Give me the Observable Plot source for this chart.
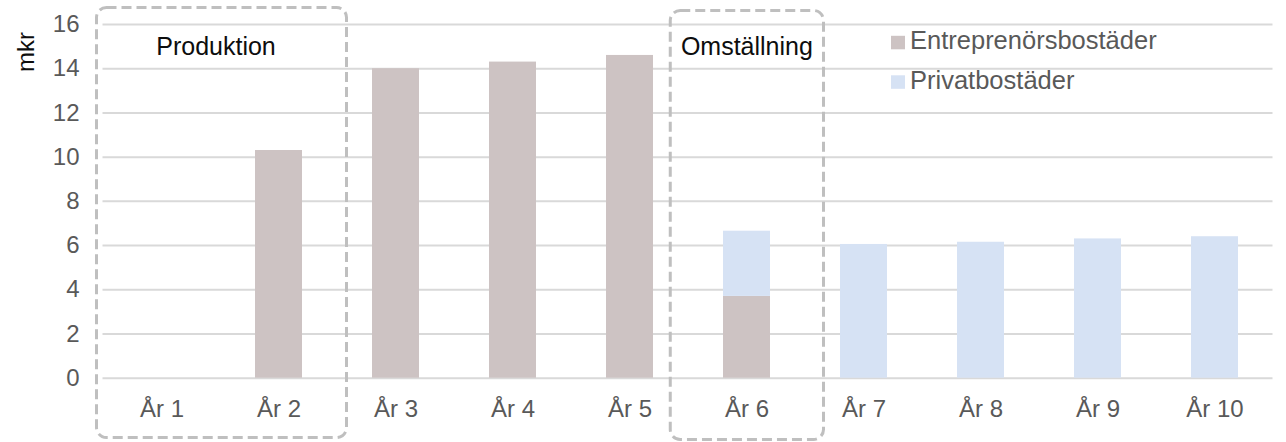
<!DOCTYPE html>
<html>
<head>
<meta charset="utf-8">
<script src="https://cdn.jsdelivr.net/npm/d3@7"></script>
<script src="https://cdn.jsdelivr.net/npm/@observablehq/plot@0.6"></script>
<style>
  html, body { margin: 0; padding: 0; background: #fff; }
  #chart { width: 1286px; height: 442px; overflow: hidden; }
</style>
</head>
<body>
<div id="chart"></div>
<script>
const years = ["År 1", "År 2", "År 3", "År 4", "År 5", "År 6", "År 7", "År 8", "År 9", "År 10"];
const entreprenor = [0, 10.3, 14.0, 14.3, 14.6, 3.7, 0, 0, 0, 0];
const privat = [0, 0, 0, 0, 0, 2.95, 6.05, 6.15, 6.3, 6.4];
const seriesNames = ["Entreprenörsbostäder", "Privatbostäder"];
const seriesColors = ["#cdc3c3", "#d6e2f4"];
const yTicks = [0, 2, 4, 6, 8, 10, 12, 14, 16];
const phases = [
  {label: "Produktion", from: "År 1", to: "År 2"},
  {label: "Omställning", from: "År 6", to: "År 6"}
];

const rows = [];
years.forEach((y, i) => {
  rows.push({year: y, series: seriesNames[0], value: entreprenor[i]});
  rows.push({year: y, series: seriesNames[1], value: privat[i]});
});

const font = "Liberation Sans, Arial, sans-serif";

const chart = Plot.plot({
  width: 1286,
  height: 442,
  marginLeft: 102.5,
  marginRight: 13.5,
  marginTop: 24,
  marginBottom: 64.3,
  style: {fontFamily: font, background: "#fff", overflow: "visible"},
  x: {domain: years, paddingInner: 0.6, paddingOuter: 0.3, label: null},
  y: {domain: [0, 16], label: null},
  color: {domain: seriesNames, range: seriesColors},
  marks: [
    Plot.ruleY(yTicks, {stroke: "#d9d9d9", strokeWidth: 2}),
    Plot.barY(rows, Plot.stackY({x: "year", y: "value", fill: "series", order: seriesNames})),
    Plot.axisY(yTicks, {tickSize: 0, tickPadding: 0, dx: -23.5, fontSize: 24, fill: "#595959", label: null}),
    Plot.axisX({tickSize: 0, tickPadding: 22, fontSize: 24, fill: "#595959", label: null})
  ]
});

document.getElementById("chart").appendChild(chart);

const svg = d3.select(chart);
const xs = chart.scale("x");
const bw = xs.bandwidth;

// phase boxes (positioned from the x scale)
const boxSpec = [
  {padL: 41.5, padR: 44.5, top: 7.5, bottom: 437.5, dx: -5.5},
  {padL: 52.75, padR: 53.5, top: 10.5, bottom: 439.5, dx: 0}
];
phases.forEach((p, k) => {
  const s = boxSpec[k];
  const left = xs.apply(p.from) - s.padL;
  const right = xs.apply(p.to) + bw + s.padR;
  svg.append("rect")
    .attr("x", left).attr("y", s.top)
    .attr("width", right - left).attr("height", s.bottom - s.top)
    .attr("rx", 10).attr("ry", 10)
    .attr("fill", "none")
    .attr("stroke", "#bfbfbf")
    .attr("stroke-width", 3)
    .attr("stroke-dasharray", "10,5");
  svg.append("text")
    .attr("x", (left + right) / 2 + s.dx).attr("y", 55)
    .attr("text-anchor", "middle")
    .attr("font-family", font).attr("font-size", 25)
    .attr("fill", "#0d0d0d")
    .text(p.label);
});

// y axis label
svg.append("text")
  .attr("transform", "translate(34,52) rotate(-90)")
  .attr("text-anchor", "middle")
  .attr("font-family", font).attr("font-size", 24)
  .attr("fill", "#0d0d0d")
  .text("mkr");

// legend
seriesNames.forEach((name, i) => {
  const base = 49.3 + i * 39.5;
  svg.append("rect")
    .attr("x", 891).attr("y", base - 13.5)
    .attr("width", 14).attr("height", 13.5)
    .attr("fill", seriesColors[i]);
  svg.append("text")
    .attr("x", 910).attr("y", base)
    .attr("text-anchor", "start")
    .attr("font-family", font).attr("font-size", 25.5)
    .attr("fill", "#595959")
    .text(name);
});
</script>
</body>
</html>
